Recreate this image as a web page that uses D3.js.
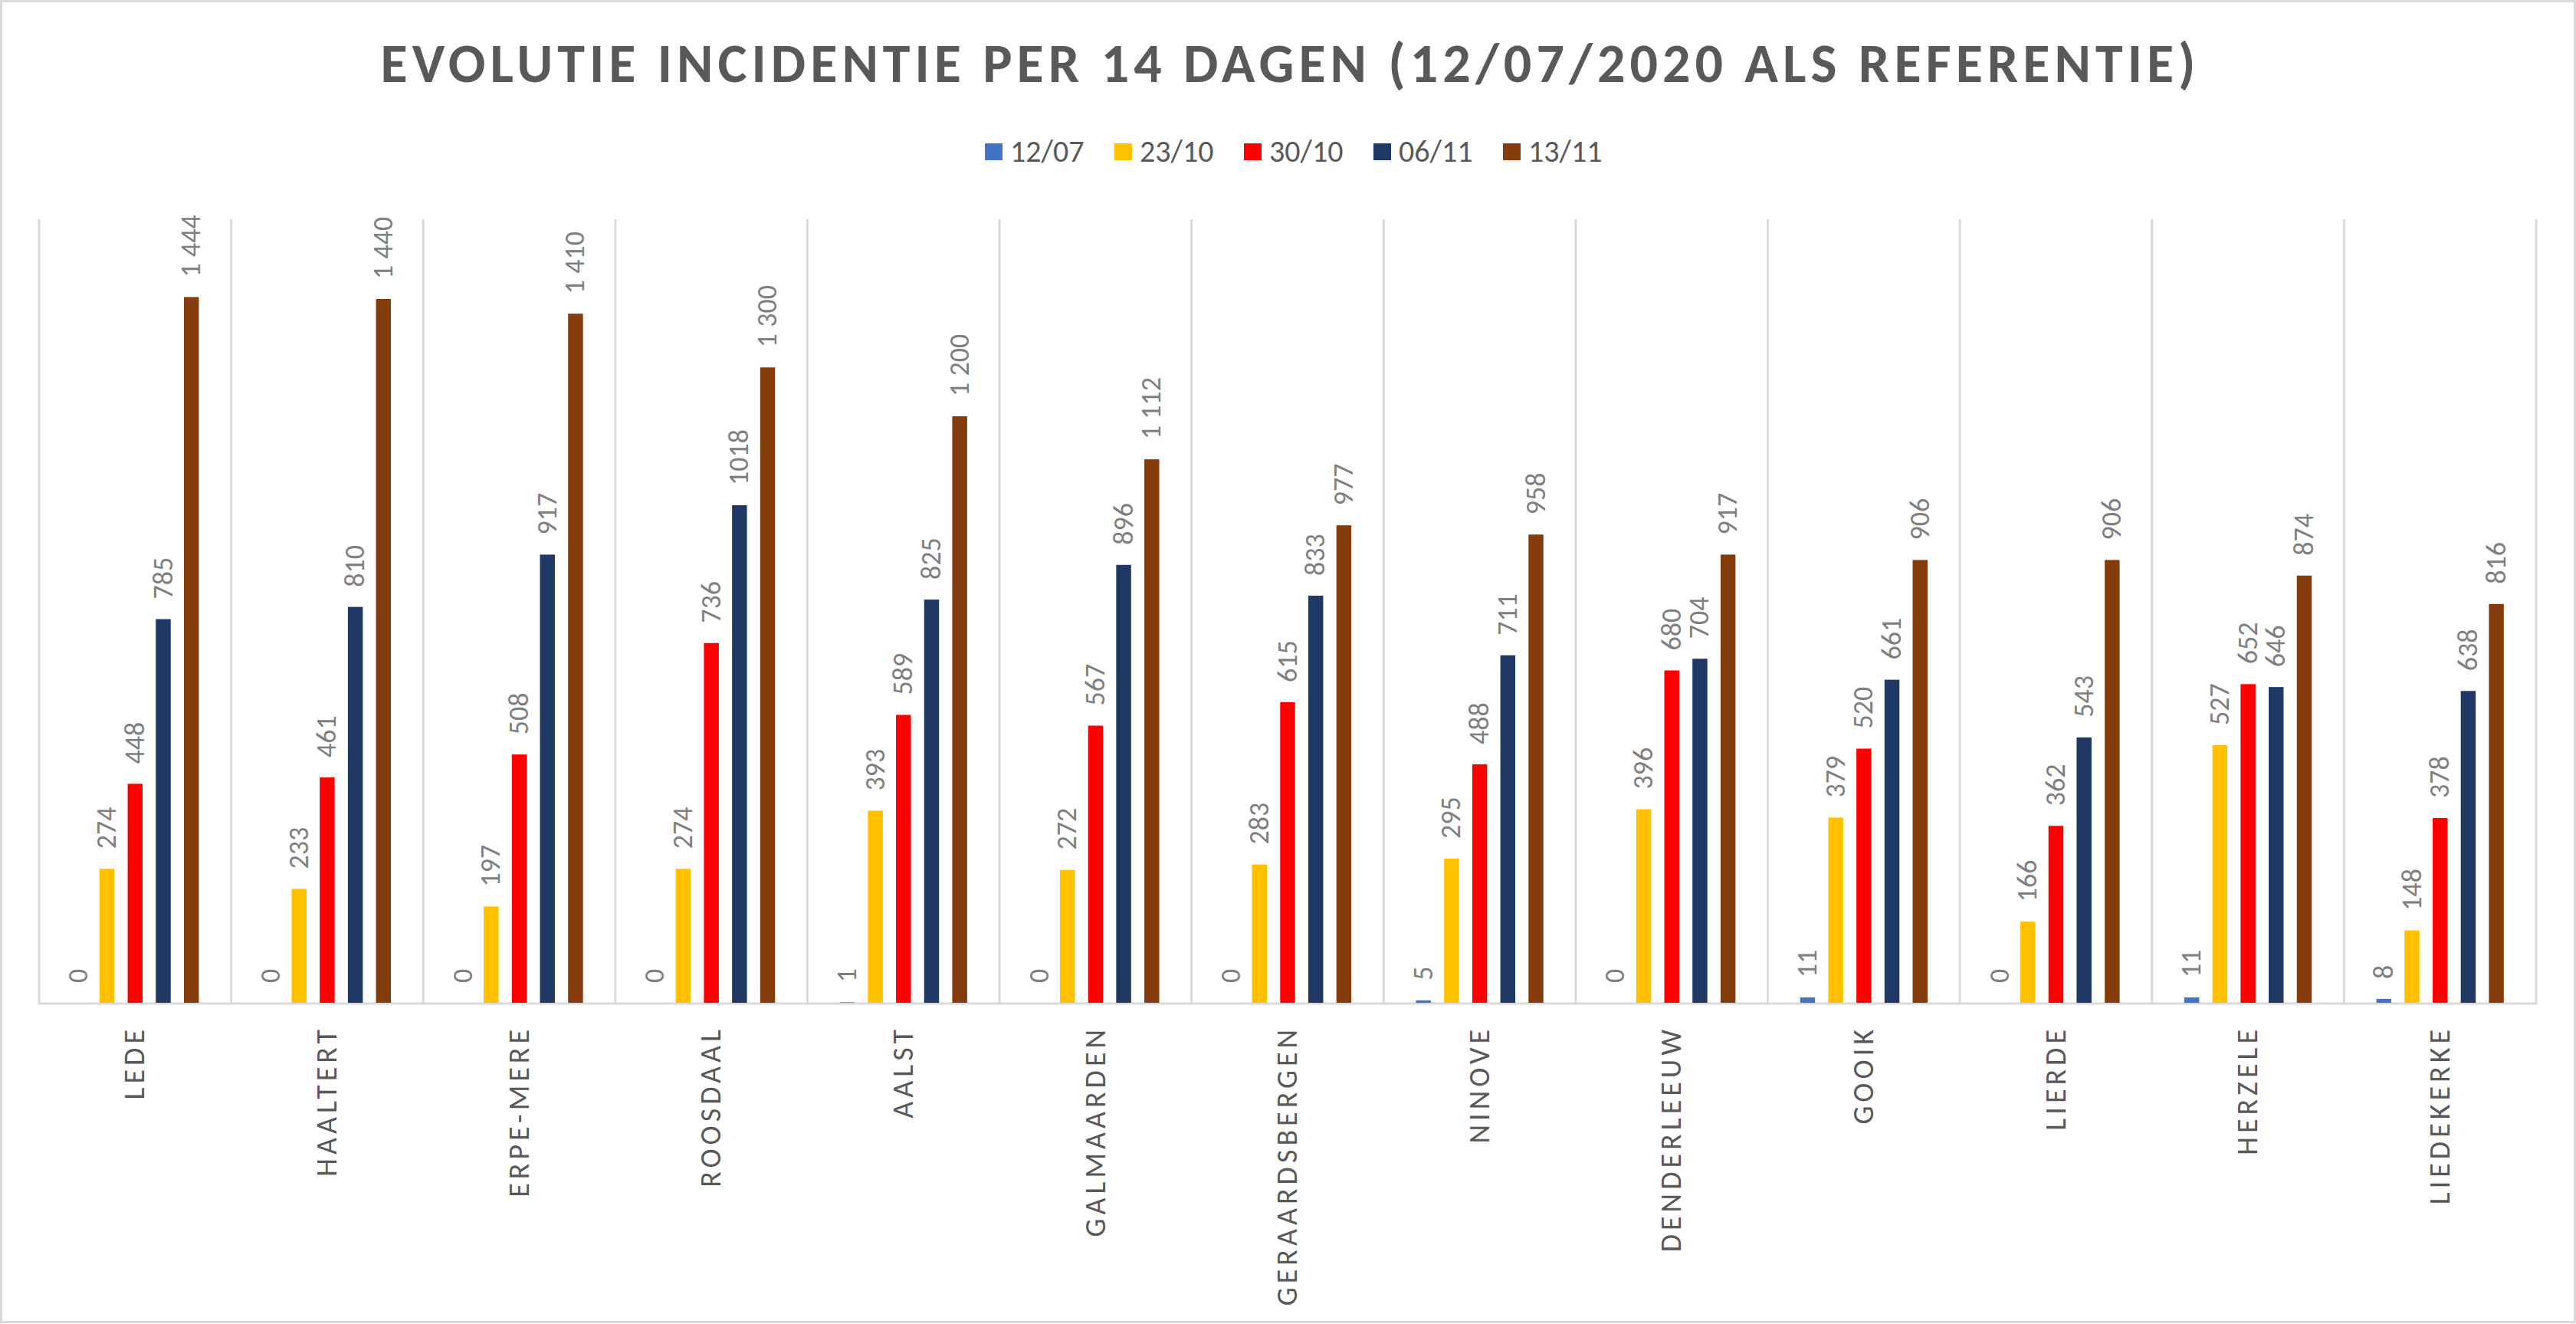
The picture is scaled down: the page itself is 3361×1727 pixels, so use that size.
<!DOCTYPE html>
<html>
<head>
<meta charset="utf-8">
<script src="https://cdn.jsdelivr.net/npm/d3@7"></script>
<style>
  html, body { margin: 0; padding: 0; background: #fff; }
  text { font-family: "Carlito", "Calibri", "Liberation Sans", sans-serif; }
</style>
</head>
<body>
<div id="chart"></div>
<script>
const W = 3361, H = 1727;

const categories = ["LEDE", "HAALTERT", "ERPE-MERE", "ROOSDAAL", "AALST", "GALMAARDEN",
  "GERAARDSBERGEN", "NINOVE", "DENDERLEEUW", "GOOIK", "LIERDE", "HERZELE", "LIEDEKERKE"];
const seriesNames = ["12/07", "23/10", "30/10", "06/11", "13/11"];
const seriesColors = ["#4472C4", "#FFC000", "#FF0000", "#1F3864", "#843C0C"];
const v1207 = [0, 0, 0, 0, 1, 0, 0, 5, 0, 11, 0, 11, 8];
const v2310 = [274, 233, 197, 274, 393, 272, 283, 295, 396, 379, 166, 527, 148];
const v3010 = [448, 461, 508, 736, 589, 567, 615, 488, 680, 520, 362, 652, 378];
const v0611 = [785, 810, 917, 1018, 825, 896, 833, 711, 704, 661, 543, 646, 638];
const v1311 = [1444, 1440, 1410, 1300, 1200, 1112, 977, 958, 917, 906, 906, 874, 816];
const seriesValues = [v1207, v2310, v3010, v0611, v1311];
// only the last series uses a space as thousands separator in the original
const groupedSeries = ["13/11"];
const yDomain = [0, 1600];

const svg = d3.select("#chart").append("svg")
    .attr("width", W).attr("height", H);

svg.append("rect")
    .attr("x", 1.5).attr("y", 1.5)
    .attr("width", W - 3).attr("height", H - 4)
    .attr("fill", "#fff").attr("stroke", "#d9d9d9").attr("stroke-width", 3);

const x0 = d3.scaleBand().domain(categories).range([51, 3309]);
const x1 = d3.scaleBand().domain(seriesNames).range([0, x0.bandwidth()])
    .paddingInner(0.47).paddingOuter(1.15);
const y = d3.scaleLinear().domain(yDomain).range([1308, 288]);

const spaceFmt = d3.formatLocale({ decimal: ",", thousands: "\u00a0", grouping: [3], currency: ["", ""] }).format(",d");

// title
svg.append("text")
    .attr("x", W / 2).attr("y", 107)
    .attr("text-anchor", "middle")
    .attr("font-size", 72).attr("font-weight", "bold")
    .attr("fill", "#595959")
    .attr("textLength", 2368).attr("lengthAdjust", "spacing")
    .text("EVOLUTIE INCIDENTIE PER 14 DAGEN (12/07/2020 ALS REFERENTIE)");

// legend
const legend = svg.append("g").attr("transform", "translate(1285,187)");
const item = legend.selectAll("g")
    .data(seriesNames)
    .enter().append("g")
    .attr("transform", (d, i) => `translate(${i * 169},0)`);
item.append("rect")
    .attr("width", 23).attr("height", 22)
    .attr("fill", (d, i) => seriesColors[i]);
item.append("text")
    .attr("x", 33).attr("y", 24)
    .attr("font-size", 40).attr("fill", "#595959")
    .text(d => d);

// category separators
const bounds = categories.map(c => x0(c)).concat([x0.range()[1]]);
svg.selectAll(".sep")
    .data(bounds)
    .enter().append("line")
    .attr("class", "sep")
    .attr("x1", d => d).attr("x2", d => d)
    .attr("y1", y(yDomain[1]) - 2).attr("y2", y(0))
    .attr("stroke", "#d9d9d9").attr("stroke-width", 3);

svg.append("line")
    .attr("x1", x0.range()[0] - 1.5).attr("x2", x0.range()[1] + 1.5)
    .attr("y1", y(0) + 1).attr("y2", y(0) + 1)
    .attr("stroke", "#d9d9d9").attr("stroke-width", 3);

// bars
const cells = [];
seriesNames.forEach((s, si) => {
    categories.forEach((c, ci) => {
        cells.push({ series: s, si: si, cat: c, value: seriesValues[si][ci] });
    });
});

svg.selectAll(".bar")
    .data(cells)
    .enter().append("rect")
    .attr("class", "bar")
    .attr("x", d => x0(d.cat) + x1(d.series))
    .attr("width", x1.bandwidth())
    .attr("y", d => y(d.value))
    .attr("height", d => y(0) - y(d.value))
    .attr("fill", d => seriesColors[d.si]);

svg.selectAll(".val")
    .data(cells)
    .enter().append("text")
    .attr("class", "val")
    .attr("transform", d => `translate(${x0(d.cat) + x1(d.series) + x1.bandwidth() / 2},${y(d.value) - 26}) rotate(-90)`)
    .attr("dy", "0.32em")
    .attr("font-size", 36).attr("fill", "#7f7f7f")
    .text(d => groupedSeries.includes(d.series) ? spaceFmt(d.value) : String(d.value));

// category labels
svg.selectAll(".cat")
    .data(categories)
    .enter().append("text")
    .attr("class", "cat")
    .attr("transform", d => `translate(${x0(d) + x0.bandwidth() / 2},1338) rotate(-90)`)
    .attr("dy", "0.32em")
    .attr("text-anchor", "end")
    .attr("font-size", 38).attr("fill", "#595959")
    .attr("letter-spacing", 5)
    .text(d => d);
</script>
</body>
</html>
